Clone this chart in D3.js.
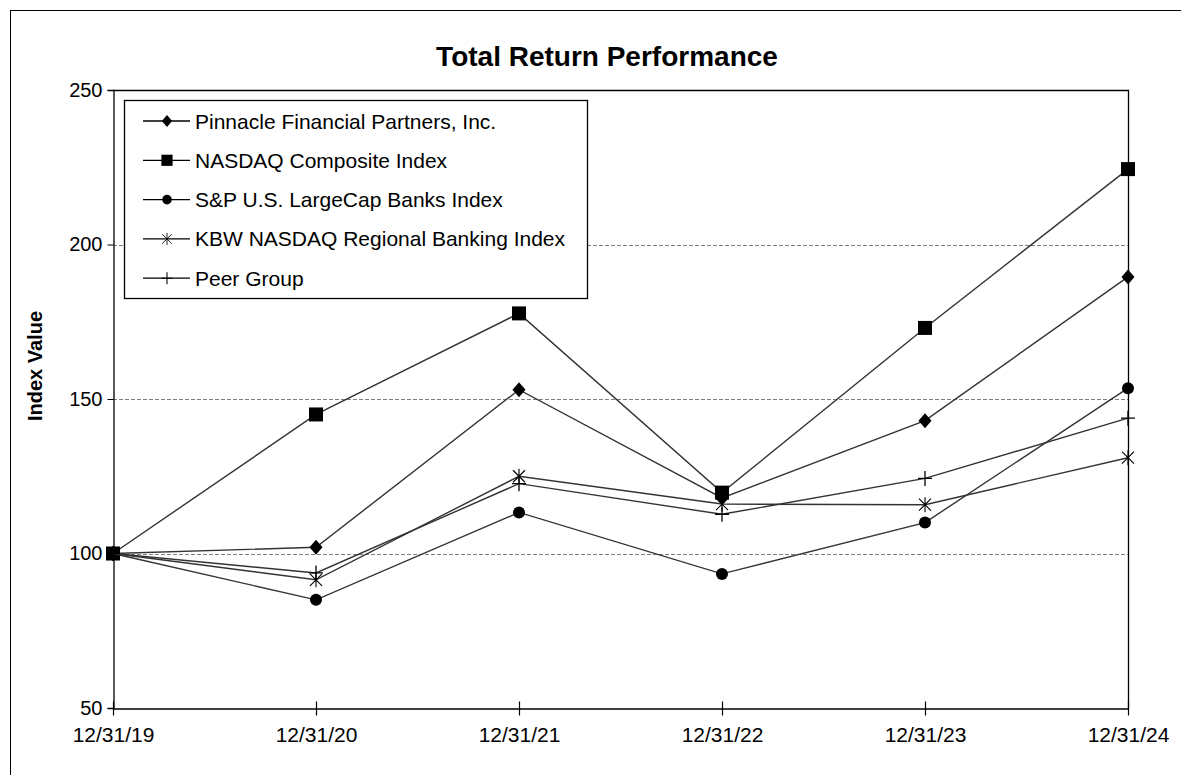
<!DOCTYPE html>
<html>
<head>
<meta charset="utf-8">
<script src="https://cdn.jsdelivr.net/npm/d3@7"></script>
<style>
  body { margin: 0; background: #fff; }
  svg text { font-family: "Liberation Sans", Arial, sans-serif; fill: #000; }
</style>
</head>
<body>
<svg id="chart"></svg>
<script>
const width = 1181;
const height = 775;

// ---------- data ----------
const dates = ["12/31/19", "12/31/20", "12/31/21", "12/31/22", "12/31/23", "12/31/24"];
const seriesNames = [
    "Pinnacle Financial Partners, Inc.",
    "NASDAQ Composite Index",
    "S&P U.S. LargeCap Banks Index",
    "KBW NASDAQ Regional Banking Index",
    "Peer Group"
];
const pinnacle = [100, 102, 153, 118, 143, 189.5];
const nasdaq   = [100, 145, 177.7, 119.7, 173, 224.4];
const spBanks  = [100, 85, 113.3, 93.4, 110, 153.5];
const kbw      = [100, 91.5, 125, 116, 115.8, 131];
const peer     = [100, 93.7, 122.6, 112.7, 124.3, 143.8];
const yTicks = [50, 100, 150, 200, 250];
const gridValues = [100, 150, 200];

const series = [
    {name: seriesNames[0], values: pinnacle, symbol: "diamond"},
    {name: seriesNames[1], values: nasdaq, symbol: "square"},
    {name: seriesNames[2], values: spBanks, symbol: "circle"},
    {name: seriesNames[3], values: kbw, symbol: "star"},
    {name: seriesNames[4], values: peer, symbol: "cross"}
];

const margin = {left: 113, right: 1128, top: 90, bottom: 708};

const svg = d3.select("#chart").attr("width", width).attr("height", height);

// outer frame
svg.append("rect")
    .attr("x", 10.5).attr("y", 10.5)
    .attr("width", width + 20).attr("height", height + 20)
    .attr("fill", "none").attr("stroke", "#000").attr("stroke-width", 1);

const x = d3.scalePoint().domain(dates).range([margin.left, margin.right]);
const y = d3.scaleLinear().domain([50, 250]).range([margin.bottom, margin.top]);

// title
svg.append("text")
    .attr("x", 607).attr("y", 66)
    .attr("text-anchor", "middle")
    .attr("font-size", "28px").attr("font-weight", "bold")
    .text("Total Return Performance");

// y axis title
svg.append("text")
    .attr("transform", `translate(42, 366) rotate(-90)`)
    .attr("text-anchor", "middle")
    .attr("font-size", "20px").attr("font-weight", "bold")
    .text("Index Value");

// gridlines
svg.append("g")
    .selectAll("line")
    .data(gridValues)
    .join("line")
    .attr("x1", margin.left).attr("x2", margin.right)
    .attr("y1", d => Math.round(y(d)) + 0.5).attr("y2", d => Math.round(y(d)) + 0.5)
    .attr("stroke", "#808080").attr("stroke-width", 1)
    .attr("stroke-dasharray", "4,2");

// plot frame (top + right)
svg.append("path")
    .attr("d", `M${margin.left},${margin.top + 0.5}H${margin.right + 0.5}V${margin.bottom}`)
    .attr("fill", "none").attr("stroke", "#000").attr("stroke-width", 1.3);

// y axis
const yAxis = svg.append("g")
    .attr("transform", `translate(${margin.left + 0.5},0)`)
    .call(d3.axisLeft(y).tickValues(yTicks).tickSize(6).tickPadding(5));
yAxis.selectAll("text").attr("font-size", "20px").attr("font-family", "Liberation Sans, Arial, sans-serif");
yAxis.select(".domain").attr("stroke-width", 1.3);

// x axis
const xAxis = svg.append("g")
    .attr("transform", `translate(0,${margin.bottom + 0.5})`)
    .call(d3.axisBottom(x).tickSize(7).tickPadding(12).tickSizeOuter(0));
xAxis.selectAll(".tick line").attr("y1", -7).attr("stroke-width", 1.2);
xAxis.selectAll("text").attr("font-size", "21px").attr("font-family", "Liberation Sans, Arial, sans-serif");
xAxis.select(".domain").attr("stroke-width", 1.6);

// ---------- markers ----------
function drawSymbol(g, type) {
    if (type === "diamond") {
        g.append("path").attr("d", "M0,-7.5L6.5,0L0,7.5L-6.5,0Z").attr("fill", "#000");
    } else if (type === "square") {
        g.append("rect").attr("x", -7).attr("y", -7).attr("width", 14).attr("height", 14).attr("fill", "#000");
    } else if (type === "circle") {
        g.append("circle").attr("r", 6).attr("fill", "#000");
    } else if (type === "star") {
        g.append("path")
            .attr("d", "M-6,-6L6,6M-6,6L6,-6M0,-7.5V7.5")
            .attr("stroke", "#000").attr("stroke-width", 1.1).attr("fill", "none");
    } else if (type === "cross") {
        g.append("path")
            .attr("d", "M-7,0H7M0,-7.5V7.5")
            .attr("stroke", "#000").attr("stroke-width", 1.3).attr("fill", "none");
    }
}

const line = d3.line()
    .x((d, i) => x(dates[i]))
    .y(d => y(d));

const seriesG = svg.append("g")
    .selectAll("g")
    .data(series)
    .join("g");

seriesG.append("path")
    .attr("d", d => line(d.values))
    .attr("fill", "none")
    .attr("stroke", "#333")
    .attr("stroke-width", 1.4);

seriesG.each(function(s) {
    d3.select(this).selectAll("g.mark")
        .data(s.values)
        .join("g")
        .attr("class", "mark")
        .attr("transform", (d, i) => `translate(${x(dates[i])},${y(d)})`)
        .each(function() { drawSymbol(d3.select(this), s.symbol); });
});

// ---------- legend ----------
const legend = svg.append("g").attr("transform", "translate(124,100)");
legend.append("rect")
    .attr("x", 0.5).attr("y", 0.5)
    .attr("width", 463).attr("height", 198)
    .attr("fill", "#fff").attr("stroke", "#000").attr("stroke-width", 1.3);

const legendItems = legend.selectAll("g.item")
    .data(series)
    .join("g")
    .attr("class", "item")
    .attr("transform", (d, i) => `translate(0, ${21 + i * 39.3})`);

legendItems.append("line")
    .attr("x1", 19).attr("x2", 66)
    .attr("stroke", "#000").attr("stroke-width", 1.3);
legendItems.append("g")
    .each(function(d) { drawSymbol(d3.select(this), d.symbol); })
    .attr("transform", "translate(43,0) scale(0.8)");
legendItems.append("text")
    .attr("x", 71).attr("y", 0)
    .attr("dominant-baseline", "central")
    .attr("font-size", "21px")
    .text(d => d.name);
</script>
</body>
</html>
